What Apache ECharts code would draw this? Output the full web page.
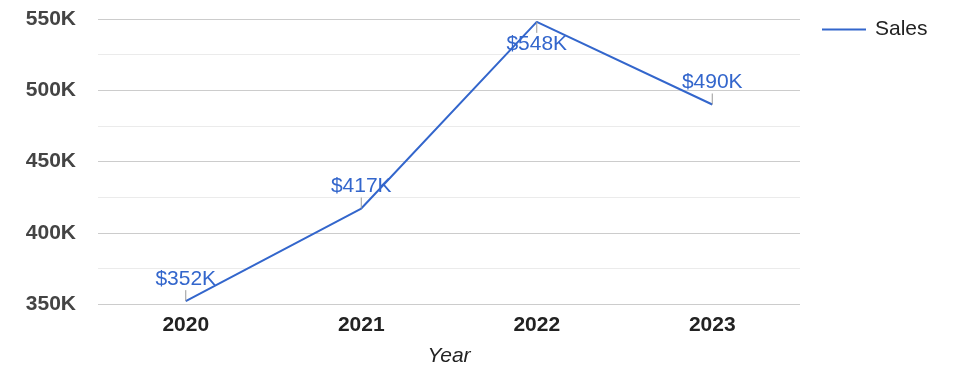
<!DOCTYPE html>
<html>
<head>
<meta charset="utf-8">
<script src="https://cdn.jsdelivr.net/npm/echarts@6/dist/echarts.min.js"></script>
<style>
  html, body { margin: 0; padding: 0; background: #fff; }
  #chart { width: 975px; height: 378px; }
</style>
</head>
<body>
<div id="chart"></div>
<script>
const years = ['2020', '2021', '2022', '2023'];
const sales = [352000, 417000, 548000, 490000];

const FONT = '"Liberation Sans", Arial, sans-serif';
const BLUE = '#3366cc';

const chart = echarts.init(document.getElementById('chart'));

// value labels with a short leader line, placed above the point (below if no room)
function renderLabel(params, api) {
  const pt = api.coord([api.value(0), api.value(1)]);
  const top = params.coordSys.y;
  const below = pt[1] - 36 < top;
  const dir = below ? 1 : -1;
  const text = '$' + Math.round(api.value(1) / 1000) + 'K';
  return {
    type: 'group',
    children: [
      {
        type: 'line',
        shape: { x1: pt[0], y1: pt[1], x2: pt[0], y2: pt[1] + dir * 11 },
        style: { stroke: '#999', lineWidth: 1 }
      },
      {
        type: 'text',
        style: {
          text: text,
          x: pt[0],
          y: pt[1] + dir * 22,
          align: 'center',
          verticalAlign: 'middle',
          fill: BLUE,
          font: '21px ' + FONT
        }
      }
    ]
  };
}

chart.setOption({
  animation: false,
  textStyle: { fontFamily: FONT },
  grid: { left: 98, right: 175, top: 19, bottom: 74 },
  legend: {
    left: 822,
    top: 19,
    padding: 0,
    itemWidth: 44,
    itemHeight: 22,
    icon: 'path://M0,10 L44,10 L44,12 L0,12 Z',
    textStyle: { fontSize: 21, color: '#222', fontFamily: FONT, padding: [0, 0, 0, 4] },
    data: ['Sales']
  },
  xAxis: {
    type: 'category',
    data: years,
    boundaryGap: true,
    axisLine: { show: false },
    axisTick: { show: false },
    axisLabel: { fontSize: 21, fontWeight: 'bold', color: '#222', margin: 11 },
    name: 'Year',
    nameLocation: 'middle',
    nameGap: 42,
    nameTextStyle: { fontSize: 21, fontStyle: 'italic', color: '#222' }
  },
  yAxis: {
    type: 'value',
    min: 350000,
    max: 550000,
    interval: 50000,
    axisLine: { show: false },
    axisTick: { show: false },
    axisLabel: {
      fontSize: 21,
      fontWeight: 'bold',
      color: '#444',
      margin: 22,
      formatter: v => v / 1000 + 'K'
    },
    splitLine: { lineStyle: { color: '#cccccc', width: 1 } },
    minorTick: { show: false, splitNumber: 2 },
    minorSplitLine: { show: true, lineStyle: { color: '#ebebeb', width: 1 } }
  },
  series: [
    {
      name: 'Sales',
      type: 'line',
      data: sales,
      symbol: 'none',
      itemStyle: { color: BLUE },
      lineStyle: { color: BLUE, width: 2 },
      z: 3
    },
    {
      name: 'labels',
      type: 'custom',
      data: sales.map((v, i) => [i, v]),
      renderItem: renderLabel,
      clip: false,
      z: 4,
      silent: true
    }
  ]
});
</script>
</body>
</html>
